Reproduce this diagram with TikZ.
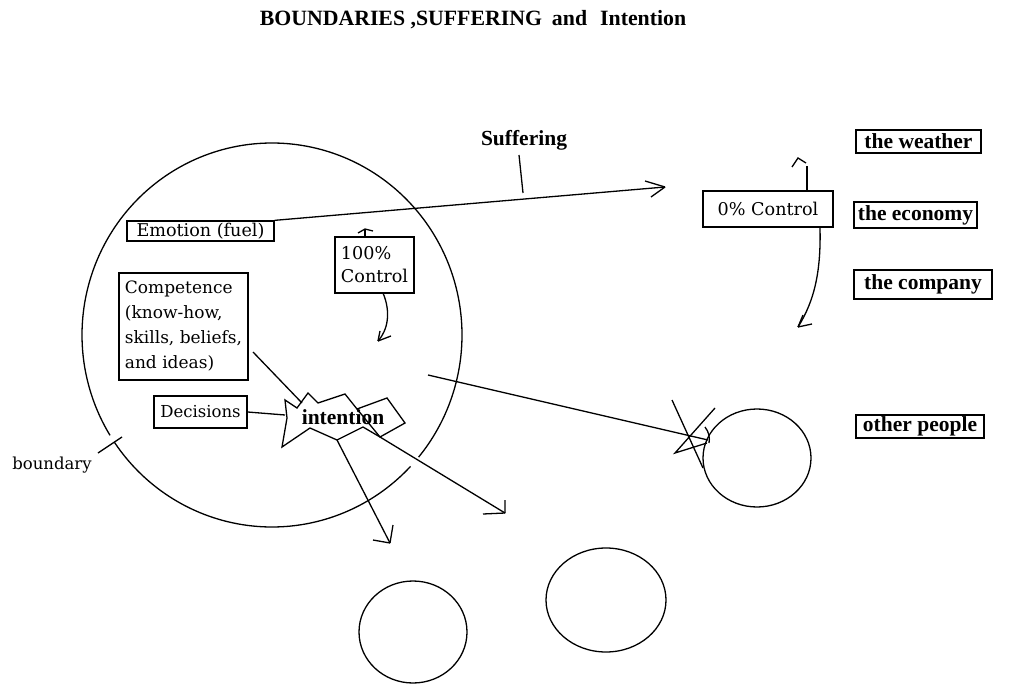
\documentclass[tikz,border=0pt]{standalone}
\usepackage{fontspec}
\setmainfont{DejaVu Serif}
\newfontfamily\tmsfont{Liberation Serif}
\usetikzlibrary{shapes.geometric}
\newcommand{\regtxt}{\fontsize{16.5}{25}\selectfont}
\newcommand{\bigregtxt}{\fontsize{17.6}{23}\selectfont}
\newcommand{\boldtxt}{\tmsfont\bfseries\fontsize{21.5}{24}\selectfont}
\newcommand{\titletxt}{\tmsfont\bfseries\fontsize{21.8}{24}\selectfont}
\begin{document}
\begin{tikzpicture}[x=1pt,y=-1pt,line width=1.3pt,
  box/.style={draw,inner sep=0pt,font=\regtxt},
  bigbox/.style={draw,inner sep=0pt,font=\bigregtxt},
  bbox/.style={draw,inner sep=0pt,font=\boldtxt},
  blob/.style={draw,ellipse,inner sep=0pt}]
\fill[white] (0,0) rectangle (1024,684);
\useasboundingbox (0,0) rectangle (1024,684);

% title and labels
\node[font=\titletxt] (title) at (473,20) {BOUNDARIES ,SUFFERING\hspace{10pt}and\hspace{13pt}Intention};
\node[font=\boldtxt] (suf) at (524,140) {Suffering};
\node[font=\regtxt] (bnd) at (52,465) {boundary};

% big boundary circle (with gaps)
\draw plot[domain=214:316.8,samples=60,smooth] ({272+190*cos(\x)},{335-192*sin(\x)});
\draw plot[domain=320.5:571.5,samples=140,smooth] ({272+190*cos(\x)},{335-192*sin(\x)});
\coordinate (bt1) at (98,453);
\coordinate (bt2) at (122,437);
\draw (bt1) -- (bt2);

% boxes inside
\node[bigbox,minimum width=147,minimum height=20] (emo) at (200.5,231) {Emotion (fuel)};
\node[bigbox,minimum width=79,minimum height=56,align=left] (full) at (374.5,265) {100\%\\Control};
\node[box,font=\fontsize{17}{25}\selectfont,minimum width=129,minimum height=107,align=left] (comp) at (183.5,326.5) {Competence\\(know-how,\\skills, beliefs,\\and ideas)};
\node[box,minimum width=93,minimum height=32] (dec) at (200.5,412) {Decisions};

% intention blob
\draw (285,400) -- (297,408) -- (308,393) -- (318,403) -- (345,394) -- (357,409) -- (387,398) -- (405,423) -- (380,437) -- (363,427) -- (337,440) -- (310,428) -- (282,447) -- (287,418) -- cycle;
\draw (357,409) -- (380,437);
\node[font=\boldtxt] (int) at (343,417) {intention};

% suffering arrow
\coordinate (sufTip) at (665,187);
\draw (emo.north east) -- (sufTip);
\draw (sufTip) -- ++(-20,-6) (sufTip) -- ++(-14,10);
\coordinate (tickTop) at (519,155);
\coordinate (tickBot) at (523,193);
\draw (tickTop) -- (tickBot);

% 100% control arrows
\coordinate (hk) at (365,229);
\draw (365,237) -- (hk);
\draw (358,233) -- (hk) -- (373,231);
\coordinate (fullTip) at (378,341);
\draw (383,293) .. controls (391,312) and (388,330) .. (fullTip);
\draw (fullTip) -- ++(13,-5) (fullTip) -- ++(2,-10);

% competence / decisions to intention
\coordinate (ci) at (302,403);
\coordinate (cs) at (253,352);
\draw (cs) -- (ci);
\coordinate (di) at (285,415);
\draw (dec.east) -- (di);

% arrows out of intention
\coordinate (a1s) at (337,440);
\coordinate (a1t) at (390,543);
\draw (a1s) -- (a1t);
\draw (a1t) -- ++(-17,-3) (a1t) -- ++(3,-18);
\coordinate (a2s) at (380,437);
\coordinate (a2t) at (505,513);
\draw (a2s) -- (a2t);
\draw (a2t) -- ++(0,-13) (a2t) -- ++(-22,1);

% arrow to other people circle with X
\node[blob,minimum width=108,minimum height=98] (op) at (757,458) {};
\coordinate (xs) at (428,375);
\coordinate (xt) at (708,440);
\draw (xs) -- (xt);
\draw (672,400) -- (703,468);
\draw (715,408) -- (675,453) -- (707,443);
\draw (705,427) .. controls (709,432) and (710,438) .. (709,443);

% bottom circles
\node[blob,minimum width=108,minimum height=102] (c1) at (413,632) {};
\node[blob,minimum width=120,minimum height=104] (c2) at (606,600) {};

% 0% control
\node[bigbox,minimum width=130,minimum height=36] (zero) at (768,209) {0\% Control};
\coordinate (zu) at (807,166);
\draw (807,191) -- (zu);
\draw (792,167) -- (798,158) -- (806,163);
\coordinate (zt) at (798,327);
\draw (820,228) .. controls (821,270) and (815,300) .. (zt);
\draw (zt) -- ++(14,-3) (zt) -- ++(5,-12);

% right labels
\node[bbox,minimum width=125,minimum height=23] (weather) at (918.5,141.5) {the weather};
\node[bbox,minimum width=123,minimum height=26] (economy) at (915.5,215) {the economy};
\node[bbox,minimum width=138,minimum height=29] (company) at (923,284.5) {the company};
\node[bbox,minimum width=128,minimum height=23] (people) at (920,426.5) {other people};
\end{tikzpicture}
\end{document}
